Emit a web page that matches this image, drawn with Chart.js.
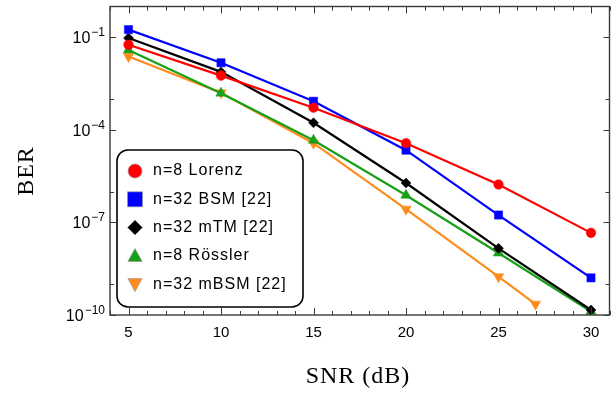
<!DOCTYPE html>
<html>
<head>
<meta charset="utf-8">
<script src="https://cdn.jsdelivr.net/npm/chart.js@4.4.0/dist/chart.umd.min.js"></script>
<style>
  html, body { margin: 0; padding: 0; background: #fff; }
  #wrap { width: 616px; height: 395px; }
</style>
</head>
<body>
<div id="wrap"><canvas id="ber-chart"></canvas></div>
<script>
// SNR points (dB)
const snr = [5, 10, 15, 20, 25, 30];
const snrMBSM = [5, 10, 15, 20, 25, 27];

// BER values
const berLorenz = [5.75e-2, 5.75e-3, 5.25e-4, 3.7e-5, 1.7e-6, 4.6e-8];
const berBSM    = [1.78e-1, 1.5e-2, 8.5e-4, 2.2e-5, 1.74e-7, 1.6e-9];
const berMTM    = [9.5e-2, 7.6e-3, 1.7e-4, 1.9e-6, 1.45e-8, 1.45e-10];
const berRossler = [3.9e-2, 1.55e-3, 4.6e-5, 7.6e-7, 1.02e-8, 1.3e-10];
const berMBSM   = [2.4e-2, 1.6e-3, 3.7e-5, 2.7e-7, 1.74e-9, 2.24e-10];

const seriesLabels = ['n=8 Lorenz', 'n=32 BSM [22]', 'n=32 mTM [22]', 'n=8 R\u00f6ssler', 'n=32 mBSM [22]'];

// axis ticks
const xTicks = [5, 10, 15, 20, 25, 30];
const xMinorTicks = [4, 6, 7, 8, 9, 11, 12, 13, 14, 16, 17, 18, 19, 21, 22, 23, 24, 26, 27, 28, 29, 31];
const yTicks = [1e-10, 1e-7, 1e-4, 1e-1];
const yTickExponents = ['\u221210', '\u22127', '\u22124', '\u22121'];
const yMinorTicks = [1e-9, 1e-6, 1e-3];

const pts = (xs, ys) => xs.map((x, i) => ({ x: x, y: ys[i] }));

function makeSet(i, xs, ys, color, style, radius, rot) {
  return {
    label: seriesLabels[i],
    data: pts(xs, ys),
    borderColor: color,
    backgroundColor: color,
    borderWidth: 2.2,
    pointStyle: style,
    pointRadius: radius,
    pointRotation: rot || 0,
    pointBorderWidth: 0.5,
    pointBorderColor: color,
    clip: false,
    tension: 0
  };
}

const datasets = [
  makeSet(0, snr, berLorenz, '#ff0000', 'circle', 4.8),
  makeSet(1, snr, berBSM, '#0000ff', 'rect', 5.8),
  makeSet(2, snr, berMTM, '#000000', 'rectRot', 5),
  makeSet(3, snr, berRossler, '#19a019', 'triangle', 6),
  makeSet(4, snrMBSM, berMBSM, '#ff8c1a', 'triangle', 6, 180)
];

function marker(ctx, style, x, y, r, rot) {
  ctx.beginPath();
  if (style === 'circle') {
    ctx.arc(x, y, r, 0, Math.PI * 2);
  } else if (style === 'rect') {
    ctx.rect(x - r, y - r, 2 * r, 2 * r);
  } else if (style === 'rectRot') {
    ctx.moveTo(x, y - r); ctx.lineTo(x + r, y); ctx.lineTo(x, y + r); ctx.lineTo(x - r, y);
  } else {
    const s = rot ? -1 : 1;
    ctx.moveTo(x, y - s * r);
    ctx.lineTo(x + r * 0.95, y + s * r * 0.75);
    ctx.lineTo(x - r * 0.95, y + s * r * 0.75);
  }
  ctx.closePath();
  ctx.fill();
  ctx.stroke();
}

// frame, inward ticks, y labels, axis titles and the legend box
const decor = {
  id: 'decor',
  afterDatasetsDraw(chart) {
    const { ctx, chartArea: a, scales: { x, y } } = chart;
    ctx.save();
    ctx.strokeStyle = '#3a3a3a';
    ctx.lineWidth = 1.4;
    ctx.strokeRect(a.left, a.top, a.right - a.left, a.bottom - a.top);
    ctx.lineWidth = 1;
    ctx.beginPath();
    xTicks.concat(xMinorTicks).forEach(v => {
      const px = Math.round(x.getPixelForValue(v)) + 0.5;
      const len = xTicks.includes(v) ? 7 : 4;
      ctx.moveTo(px, a.bottom); ctx.lineTo(px, a.bottom - len);
      ctx.moveTo(px, a.top); ctx.lineTo(px, a.top + len);
    });
    yTicks.concat(yMinorTicks).forEach(v => {
      const py = Math.round(y.getPixelForValue(v)) + 0.5;
      const len = yTicks.includes(v) ? 6 : 4;
      ctx.moveTo(a.left, py); ctx.lineTo(a.left + len, py);
      ctx.moveTo(a.right, py); ctx.lineTo(a.right - len, py);
    });
    ctx.stroke();

    // y tick labels as 10 with a raised exponent
    ctx.fillStyle = '#000';
    ctx.textBaseline = 'alphabetic';
    ctx.textAlign = 'left';
    yTicks.forEach((v, i) => {
      const py = y.getPixelForValue(v);
      ctx.font = '12px "Liberation Sans", Arial, sans-serif';
      const ew = ctx.measureText(yTickExponents[i]).width;
      ctx.font = '16px "Liberation Sans", Arial, sans-serif';
      const bw = ctx.measureText('10').width;
      const x0 = a.left - 5 - ew - bw - 1;
      ctx.fillText('10', x0, py + 6);
      ctx.font = '12px "Liberation Sans", Arial, sans-serif';
      ctx.fillText(yTickExponents[i], x0 + bw + 1, py - 1);
    });

    // axis titles
    ctx.font = '24px "Liberation Serif", "Times New Roman", serif';
    ctx.letterSpacing = '1px';
    ctx.textAlign = 'center';
    ctx.textBaseline = 'middle';
    ctx.fillText('SNR (dB)', 358, 377);
    ctx.save();
    ctx.translate(27, 171);
    ctx.rotate(-Math.PI / 2);
    ctx.fillText('BER', 0, 0);
    ctx.restore();

    // legend
    const bx = 117, by = 150, bw = 186, bh = 157, br = 11;
    ctx.beginPath();
    ctx.roundRect(bx, by, bw, bh, br);
    ctx.fillStyle = '#fff';
    ctx.fill();
    ctx.strokeStyle = '#000';
    ctx.lineWidth = 1.6;
    ctx.stroke();
    ctx.font = '16px "Liberation Sans", Arial, sans-serif';
    ctx.letterSpacing = '1px';
    ctx.textAlign = 'left';
    chart.data.datasets.forEach((ds, i) => {
      const cy = 171 + i * 28.3;
      ctx.fillStyle = ds.backgroundColor;
      ctx.strokeStyle = 'rgba(150,150,150,0.8)';
      ctx.lineWidth = 0.8;
      const r = ds.pointStyle === 'circle' ? 7 : 7.5;
      marker(ctx, ds.pointStyle, 135, cy, r, ds.pointRotation);
      ctx.fillStyle = '#000';
      ctx.fillText(ds.label, 153, cy);
    });
    ctx.letterSpacing = '0px';
    ctx.restore();
  }
};

new Chart(document.getElementById('ber-chart'), {
  type: 'line',
  data: { datasets: datasets },
  options: {
    responsive: true,
    maintainAspectRatio: false,
    animation: false,
    layout: { padding: { top: 6, right: 6, left: 0, bottom: 0 } },
    plugins: { legend: { display: false }, tooltip: { enabled: false } },
    scales: {
      x: {
        type: 'linear',
        min: 4,
        max: 31,
        grid: { display: false, drawTicks: false },
        border: { display: false },
        afterBuildTicks: s => { s.ticks = xTicks.map(v => ({ value: v })); },
        afterFit: s => { s.height = 80; s.paddingLeft = 0; s.paddingRight = 0; },
        ticks: {
          padding: 9,
          color: '#000',
          font: { family: '"Liberation Sans", Arial, sans-serif', size: 15 },
          callback: v => String(v)
        }
      },
      y: {
        type: 'logarithmic',
        min: 1e-10,
        max: 1,
        grid: { display: false, drawTicks: false },
        border: { display: false },
        afterBuildTicks: s => { s.ticks = yTicks.map(v => ({ value: v })); },
        afterFit: s => { s.width = 110; s.paddingTop = 0; s.paddingBottom = 0; },
        ticks: { display: false }
      }
    }
  },
  plugins: [decor]
});
</script>
</body>
</html>
